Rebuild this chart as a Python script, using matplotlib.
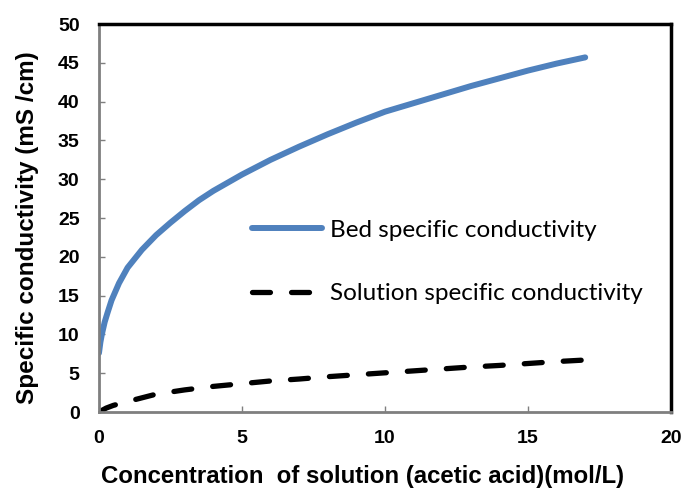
import matplotlib
matplotlib.use('Agg')
import matplotlib.pyplot as plt

# values
conc_bed = [0, 0.05, 0.1, 0.2, 0.3, 0.44, 0.7, 1, 1.5, 2, 2.5, 3, 3.5, 4, 5, 6, 7, 8, 9, 10,
            11, 12, 13, 14, 15, 16, 17]
bed_cond = [7.6, 9.0, 10.0, 11.6, 12.8, 14.4, 16.6, 18.6, 20.9, 22.8, 24.4, 25.9, 27.3, 28.5,
            30.6, 32.5, 34.2, 35.8, 37.3, 38.7, 39.8, 40.9, 42.0, 43.0, 44.0, 44.9, 45.7]

conc_sol = [0, 0.25, 0.5, 1, 2, 3, 4, 5, 6, 7, 8, 9, 10, 11, 12, 13, 14, 15, 16, 17]
sol_cond = [0, 0.5, 0.85, 1.35, 2.3, 2.85, 3.3, 3.65, 4.0, 4.25, 4.55, 4.8, 5.05, 5.3,
            5.55, 5.8, 6.0, 6.25, 6.5, 6.7]

x_ticks = [0, 5, 10, 15, 20]
y_ticks = [0, 5, 10, 15, 20, 25, 30, 35, 40, 45, 50]

plt.rcParams['font.family'] = ['Liberation Sans', 'DejaVu Sans']

fig = plt.figure(figsize=(6.84, 4.92), dpi=100)
ax = fig.add_axes([0.1447, 0.1626, 0.8363, 0.7886])

ax.plot(conc_bed, bed_cond, color='#4F81BD', lw=4.3, solid_capstyle='round',
        label='Bed specific conductivity')
ax.plot(conc_sol, sol_cond, color='black', lw=3.8, dashes=(3.4, 4.0),
        dash_capstyle='round', label='Solution specific conductivity')

ax.set_xlim(0, 20)
ax.set_ylim(0, 50)
ax.set_xticks(x_ticks)
ax.set_yticks(y_ticks)

for s in ['left', 'bottom']:
    ax.spines[s].set_color('#7f7f7f')
    ax.spines[s].set_linewidth(2)
for s in ['top', 'right']:
    ax.spines[s].set_color('black')
    ax.spines[s].set_linewidth(2.5)

ax.tick_params(direction='in', length=4, width=1, color='#7f7f7f', labelsize=14)
ax.tick_params(axis='x', pad=13)
ax.tick_params(axis='y', pad=14)
for lbl in ax.get_xticklabels() + ax.get_yticklabels():
    lbl.set_fontweight('bold')

ax.set_xlabel('Concentration  of solution (acetic acid)(mol/L)', fontsize=17.3,
              fontweight='bold')
ax.xaxis.set_label_coords(0.4607, -0.137)
ax.set_ylabel('Specific conductivity (mS /cm)', fontsize=17.5, fontweight='bold')
ax.yaxis.set_label_coords(-0.104, 0.4755)

leg = ax.legend(loc='center left', bbox_to_anchor=(0.267, 0.3866), frameon=False,
                prop={'family': 'Lato', 'size': 17.5}, handlelength=2.9,
                handletextpad=0.33, labelspacing=1.75, borderpad=0, borderaxespad=0)

fig.savefig('out.png', dpi=100)
